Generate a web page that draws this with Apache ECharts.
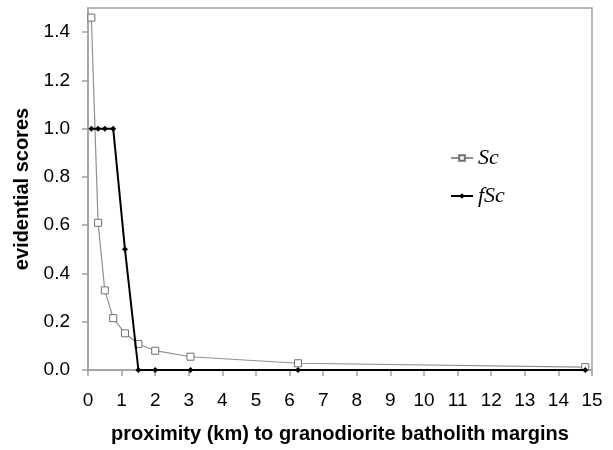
<!DOCTYPE html>
<html><head><meta charset="utf-8">
<script src="https://cdn.jsdelivr.net/npm/echarts@6/dist/echarts.min.js"></script>
<style>html,body{margin:0;padding:0;background:#fff}#c{width:613px;height:450px}</style>
</head><body><div id="c"></div>
<script>
const distances = [0.1, 0.3, 0.5, 0.75, 1.1, 1.5, 2.0, 3.05, 6.25, 14.8];
const scValues = [1.46, 0.61, 0.33, 0.215, 0.152, 0.108, 0.08, 0.055, 0.028, 0.012];
const fscValues = [1, 1, 1, 1, 0.5, 0, 0, 0, 0, 0];
const seriesNames = ['Sc', 'fSc'];

const chart = echarts.init(document.getElementById('c'));
const axisColor = '#a0a0a0';
chart.setOption({
  animation: false,
  grid: {left: 88, right: 21, top: 8, bottom: 80, show: true, borderColor: axisColor, borderWidth: 1.5},
  legend: {
    orient: 'vertical', left: 445, top: 142, itemGap: 16, itemWidth: 22, itemHeight: 7,
    textStyle: {fontFamily: 'Liberation Serif', fontStyle: 'italic', fontSize: 22, lineHeight: 22, color: '#000'},
    data: seriesNames
  },
  xAxis: {
    type: 'value', min: 0, max: 15, interval: 1,
    name: 'proximity (km) to granodiorite batholith margins', nameLocation: 'middle', nameGap: 54,
    nameTextStyle: {fontFamily: 'Liberation Sans', fontWeight: 'bold', fontSize: 20, color: '#000'},
    axisLine: {lineStyle: {color: axisColor, width: 1.5}},
    axisTick: {show: true, length: 6, lineStyle: {color: axisColor, width: 1.5}},
    axisLabel: {fontFamily: 'Liberation Sans', fontSize: 19, color: '#000', margin: 21},
    splitLine: {show: false}
  },
  yAxis: {
    type: 'value', min: 0, max: 1.5, interval: 0.2,
    name: 'evidential scores', nameLocation: 'middle', nameGap: 56,
    nameTextStyle: {fontFamily: 'Liberation Sans', fontWeight: 'bold', fontSize: 20, color: '#000'},
    axisLine: {lineStyle: {color: axisColor, width: 1.5}},
    axisTick: {show: true, length: 6, lineStyle: {color: axisColor, width: 1.5}},
    axisLabel: {fontFamily: 'Liberation Sans', fontSize: 19, color: '#000', margin: 18, showMaxLabel: false,
      formatter: v => v.toFixed(1)},
    splitLine: {show: false}
  },
  series: [
    {
      name: seriesNames[0], type: 'line', data: distances.map((d, i) => [d, scValues[i]]),
      symbol: 'rect', symbolSize: 7, z: 2,
      lineStyle: {color: '#909090', width: 1.2},
      itemStyle: {color: '#fff', borderColor: '#707070', borderWidth: 1}
    },
    {
      name: seriesNames[1], type: 'line', data: distances.map((d, i) => [d, fscValues[i]]),
      symbol: 'diamond', symbolSize: 6, z: 3,
      lineStyle: {color: '#000', width: 2},
      itemStyle: {color: '#000', borderColor: '#000', borderWidth: 0}
    }
  ]
});
</script></body></html>
